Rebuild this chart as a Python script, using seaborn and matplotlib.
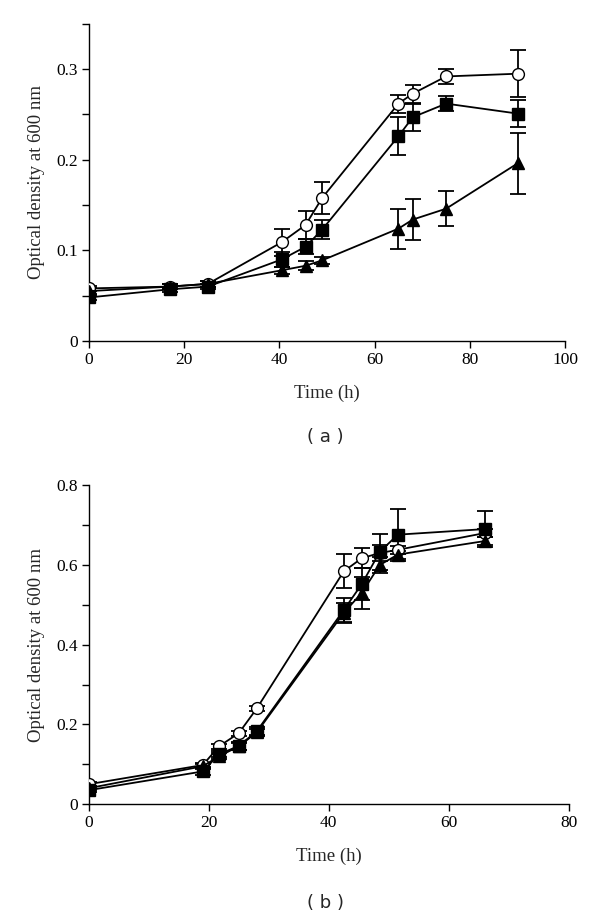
import numpy as np
import pandas as pd
import matplotlib
matplotlib.use("Agg")
import matplotlib.pyplot as plt
import seaborn as sns
from matplotlib.ticker import MultipleLocator

# ---------- data: panel (a) ----------
time_a = [0, 17, 25, 40.5, 45.5, 49, 65, 68, 75, 90]
circle_a = [0.058, 0.060, 0.063, 0.109, 0.128, 0.158, 0.262, 0.273, 0.292, 0.295]
circle_a_err = [0.003, 0.003, 0.003, 0.015, 0.016, 0.018, 0.010, 0.010, 0.008, 0.026]
square_a = [0.048, 0.057, 0.060, 0.090, 0.104, 0.123, 0.226, 0.247, 0.262, 0.251]
square_a_err = [0.003, 0.003, 0.003, 0.008, 0.008, 0.010, 0.021, 0.015, 0.008, 0.015]
triangle_a = [0.055, 0.060, 0.063, 0.078, 0.083, 0.089, 0.124, 0.134, 0.146, 0.196]
triangle_a_err = [0.003, 0.003, 0.003, 0.004, 0.005, 0.004, 0.022, 0.023, 0.019, 0.034]

# ---------- data: panel (b) ----------
time_b = [0, 19, 21.7, 25, 28, 42.5, 45.5, 48.5, 51.5, 66]
circle_b = [0.050, 0.098, 0.145, 0.178, 0.240, 0.584, 0.617, 0.630, 0.638, 0.680]
circle_b_err = [0.005, 0.005, 0.006, 0.006, 0.006, 0.043, 0.025, 0.020, 0.010, 0.010]
square_b = [0.035, 0.082, 0.125, 0.146, 0.183, 0.487, 0.552, 0.633, 0.676, 0.690]
square_b_err = [0.005, 0.008, 0.008, 0.010, 0.010, 0.030, 0.040, 0.045, 0.065, 0.045]
triangle_b = [0.040, 0.095, 0.120, 0.145, 0.180, 0.480, 0.530, 0.600, 0.626, 0.660]
triangle_b_err = [0.005, 0.006, 0.008, 0.008, 0.008, 0.025, 0.040, 0.020, 0.010, 0.010]

sns.set_theme(style="ticks")
plt.rcParams['font.family'] = ['Liberation Serif', 'DejaVu Serif']

fig = plt.figure(figsize=(6.0, 9.19), dpi=100)
ax_a = fig.add_axes([0.148, 0.629, 0.794, 0.345])
ax_b = fig.add_axes([0.148, 0.125, 0.800, 0.347])

styles = [
    ("circle", "o", "white", 8.5),
    ("square", "s", "black", 8),
    ("triangle", "^", "black", 9),
]

def draw(ax, t, series):
    for (name, mk, fc, ms), (vals, errs) in zip(styles, series):
        df = pd.DataFrame({"t": t, "v": vals})
        ax.errorbar(t, vals, yerr=errs, fmt="none", ecolor="black",
                    elinewidth=1.3, capsize=5.5, capthick=1.3, zorder=2)
        sns.lineplot(data=df, x="t", y="v", ax=ax, color="black", lw=1.3,
                     marker=mk, markersize=ms, markerfacecolor=fc,
                     markeredgecolor="black", markeredgewidth=1.0, zorder=3)

draw(ax_a, time_a, [(circle_a, circle_a_err), (square_a, square_a_err),
                    (triangle_a, triangle_a_err)])
draw(ax_b, time_b, [(circle_b, circle_b_err), (square_b, square_b_err),
                    (triangle_b, triangle_b_err)])

for ax in (ax_a, ax_b):
    sns.despine(ax=ax)
    ax.spines['left'].set_linewidth(1.0)
    ax.spines['bottom'].set_linewidth(1.0)
    ax.spines['left'].set_color("black")
    ax.spines['bottom'].set_color("black")
    ax.tick_params(axis="both", which="both", direction="out", color="black",
                   labelsize=12.5, length=5, width=1.0, pad=3)
    ax.tick_params(axis="y", which="minor", length=5)
    ax.set_xlabel("Time (h)", fontsize=13.5, labelpad=12)
    ax.set_ylabel("Optical density at 600 nm", fontsize=13.5, labelpad=8)
    ax.grid(False)

ax_a.set_xlim(0, 100)
ax_a.set_ylim(0, 0.35)
ax_a.set_xticks([0, 20, 40, 60, 80, 100])
ax_a.set_yticks([0, 0.1, 0.2, 0.3])
ax_a.set_yticklabels(["0", "0.1", "0.2", "0.3"])
ax_a.yaxis.set_minor_locator(MultipleLocator(0.05))

ax_b.set_xlim(0, 80)
ax_b.set_ylim(0, 0.8)
ax_b.set_xticks([0, 20, 40, 60, 80])
ax_b.set_yticks([0, 0.2, 0.4, 0.6, 0.8])
ax_b.set_yticklabels(["0", "0.2", "0.4", "0.6", "0.8"])
ax_b.yaxis.set_minor_locator(MultipleLocator(0.1))

for a in (ax_a, ax_b):
    for lbl in a.get_xticklabels() + a.get_yticklabels():
        lbl.set_color("black")

fig.text(0.542, 1 - 437 / 919, "( a )", ha="center", va="center",
         fontsize=13, family=["DejaVu Sans"])
fig.text(0.542, 1 - 903 / 919, "( b )", ha="center", va="center",
         fontsize=13, family=["DejaVu Sans"])

fig.savefig("out.png", dpi=100, facecolor="white")
